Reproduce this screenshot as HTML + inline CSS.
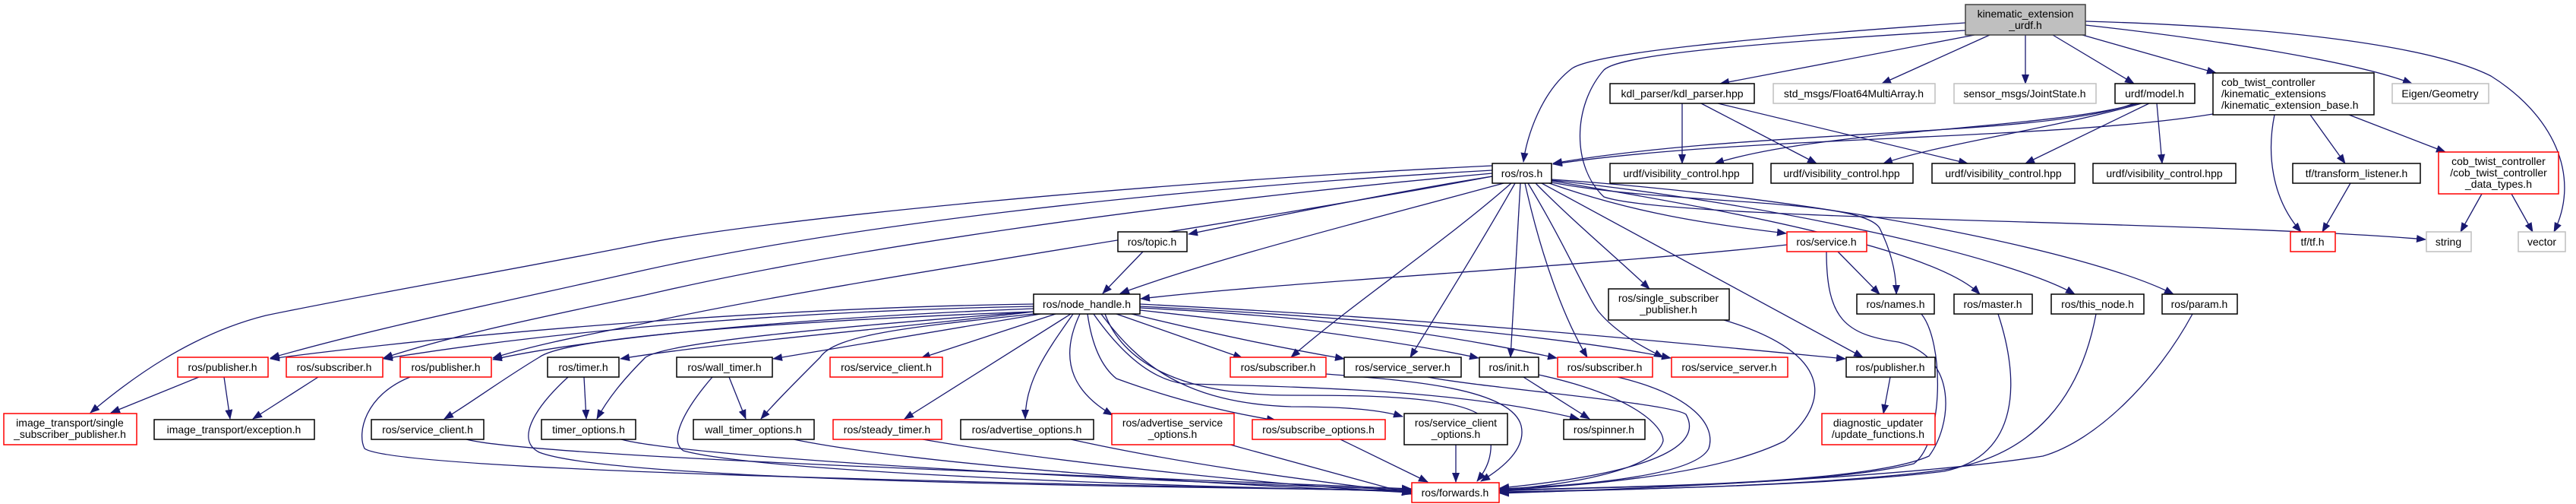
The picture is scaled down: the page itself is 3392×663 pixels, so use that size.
<!DOCTYPE html>
<html><head><meta charset="utf-8"><style>
html,body{margin:0;padding:0;background:#fff}
svg{display:block}
text{font-family:"Liberation Sans",sans-serif;font-size:14px;fill:#000}
.n rect{fill:#fff;stroke:#000;stroke-width:1.5}
.r rect{fill:#fff;stroke:#ff0000;stroke-width:1.5}
.g rect{fill:#fff;stroke:#bfbfbf;stroke-width:1.5}
.e path{fill:none;stroke:#191970;stroke-width:1.3;marker-end:url(#a)}
</style></head><body>
<svg width="3392" height="663" viewBox="0 0 3392 663" xmlns="http://www.w3.org/2000/svg">
<defs><marker id="a" markerWidth="13" markerHeight="10" refX="12" refY="5" orient="auto" markerUnits="userSpaceOnUse"><path d="M0,0 L13,5 L0,10 z" fill="#191970"/></marker></defs>
<g class="e">
<path d="M2588,30 C2300,50 2100,70 2070,90 C2030,120 2010,180 2006,213"/>
<path d="M2588,40 C2250,60 2130,75 2112,92 C2070,140 2070,220 2112,259 C2200,290 2900,290 3194,315"/>
<path d="M2600,46 L2265,110"/>
<path d="M2620,46 L2478,110"/>
<path d="M2667,46 L2667,110"/>
<path d="M2703,46 L2810,110"/>
<path d="M2742,46 L2918,96"/>
<path d="M2746,33 C2900,50 3100,80 3176,110"/>
<path d="M2746,28 C3000,35 3200,60 3280,100 C3360,150 3400,230 3363,305"/>
<path d="M2215,136 L2215,215"/>
<path d="M2240,136 L2392,215"/>
<path d="M2262,136 L2591,215"/>
<path d="M2810,136 C2700,180 2300,170 2045,215"/>
<path d="M2914,150 C2700,185 2300,178 2045,216"/>
<path d="M2815,136 C2700,170 2400,170 2258,215"/>
<path d="M2820,136 C2700,170 2550,190 2480,215"/>
<path d="M2830,136 L2667,215"/>
<path d="M2840,136 L2847,215"/>
<path d="M2995,151 C2985,200 2990,260 3030,305"/>
<path d="M3042,151 L3088,215"/>
<path d="M3093,151 L3220,200"/>
<path d="M3095,241 L3058,305"/>
<path d="M3268,255 L3240,305"/>
<path d="M3307,255 L3335,305"/>
<path d="M1965,232 C1850,250 1700,280 1565,308"/>
<path d="M1980,241 C1800,290 1600,340 1475,386"/>
<path d="M1965,218 C1500,240 1000,290 850,320 C650,360 520,380 350,415 C250,440 170,500 119,543"/>
<path d="M1965,224 C1500,250 1100,300 850,355 C650,400 500,430 356,471"/>
<path d="M1965,228 C1500,270 1100,330 850,388 C700,420 600,440 505,471"/>
<path d="M1965,232 C1600,300 1100,370 850,425 C750,445 700,455 649,471"/>
<path d="M1990,241 C1900,320 1780,400 1700,470"/>
<path d="M1995,241 C1950,320 1900,400 1857,470"/>
<path d="M2002,241 L1989,470"/>
<path d="M2008,241 C2030,340 2060,420 2090,470"/>
<path d="M2012,241 C2060,320 2090,390 2105,410 C2130,440 2170,460 2190,470"/>
<path d="M2022,241 C2070,290 2130,340 2172,380"/>
<path d="M2030,241 L2453,470"/>
<path d="M2040,241 C2150,280 2250,295 2352,307"/>
<path d="M2043,240 C2200,270 2450,260 2475,300 C2490,330 2497,360 2497,387"/>
<path d="M2043,238 C2300,280 2550,330 2607,387"/>
<path d="M2043,237 C2350,270 2650,340 2732,387"/>
<path d="M2043,236 C2400,260 2750,330 2862,387"/>
<path d="M2353,322 C2100,350 1700,370 1502,393"/>
<path d="M2420,331 L2475,387"/>
<path d="M2405,331 C2405,420 2430,440 2500,450 C2580,470 2570,560 2540,600 C2450,640 2100,640 1975,645"/>
<path d="M1505,331 L1452,386"/>
<path d="M1361,400 C1000,405 600,440 356,472"/>
<path d="M1361,403 C1000,410 700,440 505,472"/>
<path d="M1361,406 C1000,420 750,450 649,473"/>
<path d="M1361,410 C1200,430 950,450 817,472"/>
<path d="M1361,410 C1100,420 750,440 710,470 C660,500 620,530 585,551"/>
<path d="M1361,410 C1100,430 880,450 850,470 C820,500 800,525 786,551"/>
<path d="M1370,413 L1018,472"/>
<path d="M1361,413 C1200,430 1100,440 1080,470 C1050,500 1020,530 1002,551"/>
<path d="M1390,413 L1213,471"/>
<path d="M1410,413 L1191,551"/>
<path d="M1413,413 C1380,460 1350,500 1350,551"/>
<path d="M1422,413 C1390,480 1420,520 1465,546"/>
<path d="M1470,413 L1636,471"/>
<path d="M1432,413 C1440,470 1460,490 1470,498 C1530,520 1600,540 1680,553"/>
<path d="M1490,413 C1600,440 1700,460 1770,472"/>
<path d="M1501,408 C1700,430 1850,450 1947,471"/>
<path d="M1501,405 C1800,420 1950,450 2050,471"/>
<path d="M1501,403 C1850,420 2100,450 2200,471"/>
<path d="M1501,400 C1900,420 2200,450 2430,472"/>
<path d="M1440,413 C1480,470 1520,500 1560,505 C1800,510 1950,520 2079,551"/>
<path d="M1450,413 C1500,480 1560,530 1700,535 C1780,535 1820,540 1847,548"/>
<path d="M1455,413 C1480,480 1560,520 1700,520 C1800,520 1950,520 1960,560 C1970,600 1955,620 1945,633"/>
<path d="M262,496 L146,543"/>
<path d="M295,496 L303,551"/>
<path d="M419,496 L333,551"/>
<path d="M540,496 C480,520 470,570 480,590 C520,620 1300,635 1858,646"/>
<path d="M769,496 L772,551"/>
<path d="M748,496 C700,540 680,580 710,595 C800,630 1400,640 1858,645"/>
<path d="M614,578 C700,600 1300,620 1858,643"/>
<path d="M818,578 C900,600 1400,630 1858,644"/>
<path d="M960,496 L982,551"/>
<path d="M938,496 C900,540 880,580 900,593 C1000,620 1500,640 1858,646"/>
<path d="M1045,578 C1200,610 1600,640 1858,647"/>
<path d="M1215,578 C1400,610 1700,640 1858,648"/>
<path d="M1410,578 C1600,620 1800,640 1858,649"/>
<path d="M1620,585 L1858,650"/>
<path d="M1746,492 C1850,500 1990,510 2003,560 C2010,590 1980,615 1950,633"/>
<path d="M1765,578 L1880,634"/>
<path d="M1917,585 L1917,634"/>
<path d="M1880,496 C1950,510 2200,530 2220,545 C2240,580 2200,620 1975,642"/>
<path d="M2006,496 L2093,551"/>
<path d="M2026,493 C2150,520 2190,560 2190,580 C2180,620 2050,640 1975,644"/>
<path d="M2130,496 C2230,520 2260,560 2250,590 C2230,630 2050,640 1975,643"/>
<path d="M2270,421 C2400,460 2420,520 2350,580 C2250,630 2050,640 1975,645"/>
<path d="M2530,413 C2560,450 2560,580 2520,610 C2400,640 2100,640 1975,646"/>
<path d="M2631,413 C2660,500 2660,600 2560,620 C2400,640 2100,645 1975,647"/>
<path d="M2760,413 C2740,520 2680,600 2560,618 C2400,640 2100,645 1975,648"/>
<path d="M2887,413 C2840,500 2760,580 2690,600 C2500,630 2100,645 1975,649"/>
<path d="M2489,496 L2480,544"/>
</g>
<g class="g"><rect x="2588" y="6" width="158" height="40" style="fill:#bfbfbf;stroke:#404040"/></g>
<text x="2667" y="23" text-anchor="middle">kinematic_extension</text><text x="2667" y="38" text-anchor="middle">_urdf.h</text>
<g class="n">
<rect x="2120" y="110" width="190" height="26"/><rect x="2785" y="110" width="105" height="26"/>
<rect x="2914" y="96" width="212" height="55"/><rect x="1965" y="215" width="78" height="26"/>
<rect x="2120" y="215" width="188" height="26"/><rect x="2332" y="215" width="187" height="26"/>
<rect x="2544" y="215" width="188" height="26"/><rect x="2756" y="215" width="188" height="26"/>
<rect x="3019" y="215" width="168" height="26"/><rect x="1472" y="305" width="91" height="26"/>
<rect x="1361" y="387" width="140" height="26"/><rect x="2118" y="380" width="159" height="41"/>
<rect x="2445" y="387" width="102" height="26"/><rect x="2573" y="387" width="103" height="26"/>
<rect x="2701" y="387" width="122" height="26"/><rect x="2847" y="387" width="99" height="26"/>
<rect x="721" y="470" width="94" height="26"/><rect x="891" y="470" width="126" height="26"/>
<rect x="1770" y="470" width="154" height="26"/><rect x="1948" y="470" width="78" height="26"/>
<rect x="2431" y="470" width="117" height="26"/>
<rect x="203" y="552" width="211" height="26"/><rect x="489" y="552" width="148" height="26"/>
<rect x="713" y="552" width="124" height="26"/><rect x="913" y="552" width="159" height="26"/>
<rect x="1265" y="552" width="175" height="26"/><rect x="2059" y="552" width="107" height="26"/>
<rect x="1849" y="544" width="136" height="41"/>
</g>
<g class="r">
<rect x="3211" y="200" width="158" height="55"/><rect x="2353" y="305" width="105" height="26"/>
<rect x="3016" y="305" width="59" height="26"/>
<rect x="234" y="470" width="119" height="26"/><rect x="377" y="470" width="127" height="26"/>
<rect x="527" y="470" width="120" height="26"/><rect x="1093" y="470" width="148" height="26"/>
<rect x="1620" y="470" width="126" height="26"/><rect x="2051" y="470" width="125" height="26"/>
<rect x="2201" y="470" width="153" height="26"/>
<rect x="1097" y="552" width="143" height="26"/><rect x="1649" y="552" width="175" height="26"/>
<rect x="5" y="544" width="175" height="41"/><rect x="1464" y="544" width="161" height="41"/>
<rect x="2399" y="544" width="149" height="41"/><rect x="1859" y="635" width="115" height="26"/>
</g>
<g class="g">
<rect x="2335" y="110" width="213" height="26"/><rect x="2573" y="110" width="187" height="26"/>
<rect x="3150" y="110" width="127" height="26"/><rect x="3195" y="305" width="59" height="26"/>
<rect x="3316" y="305" width="62" height="26"/>
</g>
<g text-anchor="middle">
<text x="2215" y="128">kdl_parser/kdl_parser.hpp</text>
<text x="2441" y="128">std_msgs/Float64MultiArray.h</text>
<text x="2666" y="128">sensor_msgs/JointState.h</text>
<text x="2837" y="128">urdf/model.h</text>
<text x="3213" y="128">Eigen/Geometry</text>
<text x="2004" y="233">ros/ros.h</text>
<text x="2214" y="233">urdf/visibility_control.hpp</text>
<text x="2425" y="233">urdf/visibility_control.hpp</text>
<text x="2638" y="233">urdf/visibility_control.hpp</text>
<text x="2850" y="233">urdf/visibility_control.hpp</text>
<text x="3103" y="233">tf/transform_listener.h</text>
<text x="3290" y="217">cob_twist_controller</text>
<text x="3290" y="232">/cob_twist_controller</text>
<text x="3290" y="247">_data_types.h</text>
<text x="1517" y="323">ros/topic.h</text>
<text x="2405" y="323">ros/service.h</text>
<text x="3045" y="323">tf/tf.h</text>
<text x="3224" y="323">string</text>
<text x="3347" y="323">vector</text>
<text x="1431" y="405">ros/node_handle.h</text>
<text x="2197" y="397">ros/single_subscriber</text>
<text x="2197" y="412">_publisher.h</text>
<text x="2496" y="405">ros/names.h</text>
<text x="2624" y="405">ros/master.h</text>
<text x="2762" y="405">ros/this_node.h</text>
<text x="2896" y="405">ros/param.h</text>
<text x="293" y="488">ros/publisher.h</text>
<text x="440" y="488">ros/subscriber.h</text>
<text x="587" y="488">ros/publisher.h</text>
<text x="768" y="488">ros/timer.h</text>
<text x="954" y="488">ros/wall_timer.h</text>
<text x="1167" y="488">ros/service_client.h</text>
<text x="1683" y="488">ros/subscriber.h</text>
<text x="1847" y="488">ros/service_server.h</text>
<text x="1987" y="488">ros/init.h</text>
<text x="2113" y="488">ros/subscriber.h</text>
<text x="2277" y="488">ros/service_server.h</text>
<text x="2489" y="488">ros/publisher.h</text>
<text x="92" y="561">image_transport/single</text>
<text x="92" y="576">_subscriber_publisher.h</text>
<text x="308" y="570">image_transport/exception.h</text>
<text x="563" y="570">ros/service_client.h</text>
<text x="775" y="570">timer_options.h</text>
<text x="992" y="570">wall_timer_options.h</text>
<text x="1168" y="570">ros/steady_timer.h</text>
<text x="1352" y="570">ros/advertise_options.h</text>
<text x="1544" y="561">ros/advertise_service</text>
<text x="1544" y="576">_options.h</text>
<text x="1736" y="570">ros/subscribe_options.h</text>
<text x="1917" y="561">ros/service_client</text>
<text x="1917" y="576">_options.h</text>
<text x="2112" y="570">ros/spinner.h</text>
<text x="2473" y="561">diagnostic_updater</text>
<text x="2473" y="576">/update_functions.h</text>
<text x="1916" y="653">ros/forwards.h</text>
</g>
<text x="2925" y="113">cob_twist_controller</text>
<text x="2925" y="128">/kinematic_extensions</text>
<text x="2925" y="143">/kinematic_extension_base.h</text>
</svg>
</body></html>
